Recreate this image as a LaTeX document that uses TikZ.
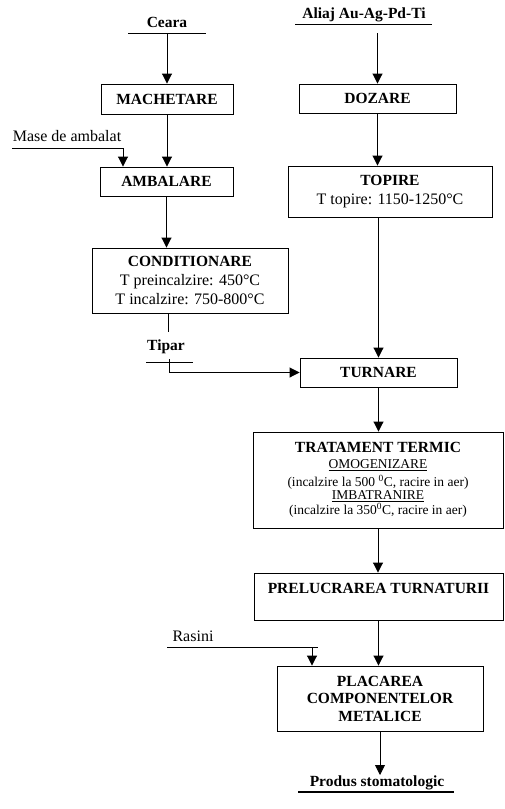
\documentclass[tikz,border=0pt]{standalone}
\usepackage{fontspec}
\setmainfont{Liberation Serif}
\usetikzlibrary{arrows.meta}
\tikzset{
  box/.style={draw, line width=0.9pt, inner sep=0pt, align=center, font=\fontsize{16}{19}\selectfont},
  bbox/.style={box, font=\bfseries\fontsize{15.5}{17.5}\selectfont},
  bt/.style={font=\bfseries\fontsize{15.5}{19}\selectfont, inner sep=0pt},
  rt/.style={font=\fontsize{16}{19}\selectfont, inner sep=0pt},
  st/.style={font=\fontsize{13.5}{15}\selectfont, inner sep=0pt},
  ln/.style={line width=0.9pt},
  arr/.style={line width=0.9pt, -{Triangle[length=10pt,width=10pt]}},
}
\begin{document}
\begin{tikzpicture}[x=1pt,y=-1pt]
\useasboundingbox (0,0) rectangle (505,809);
% boxes
\node[bbox, minimum width=132pt, minimum height=30pt] (mach) at (167,99) {MACHETARE};
\node[bbox, minimum width=157pt, minimum height=29pt] (doz) at (377.5,98.5) {DOZARE};
\node[bbox, minimum width=133pt, minimum height=29pt] (amb) at (166.5,181.5) {AMBALARE};
\node[box, minimum width=204pt, minimum height=51pt] (top) at (390,191.5) {{\fontsize{15.5}{19}\selectfont\bfseries TOPIRE}\\ T topire: 1150-1250°C};
\node[box, minimum width=196pt, minimum height=65pt] (cond) at (190,280.5) {{\fontsize{15.5}{19}\selectfont\bfseries CONDITIONARE}\\ T preincalzire: 450°C\\ T incalzire: 750-800°C};
\node[bbox, minimum width=157pt, minimum height=29pt] (turn) at (378.5,372.5) {TURNARE};
\node[box, minimum width=250pt, minimum height=96pt] (trat) at (378,480) {};
\node[bt] (trat1) at (378,447) {TRATAMENT TERMIC};
\node[st] (trat2) at (378,465) {\underline{OMOGENIZARE}};
\node[st] (trat3) at (378,482) {(incalzire la 500 \textsuperscript{0}C, racire in aer)};
\node[st] (trat4) at (378,496) {\underline{IMBATRANIRE}};
\node[st] (trat5) at (378,510) {(incalzire la 350\textsuperscript{0}C, racire in aer)};
\node[box, minimum width=249pt, minimum height=47pt] (prel) at (378.5,596.5) {};
\node[bt] (prelt) at (378.5,588) {PRELUCRAREA TURNATURII};
\node[bbox, minimum width=206pt, minimum height=65pt] (plac) at (380,698.5) {PLACAREA\\ COMPONENTELOR\\ METALICE};
% inputs
\node[bt] (ceara) at (167,22) {Ceara};
\coordinate (cearaL) at (128,33);
\coordinate (cearaR) at (206,33);
\coordinate (cearaA) at (167,33);
\draw[ln] (cearaL) -- (cearaR);
\draw[arr] (cearaA) -- (mach.north);

\node[bt] (aliaj) at (364,15) {Aliaj Au-Ag-Pd-Ti};
\coordinate (aliajL) at (295,24);
\coordinate (aliajR) at (432,24);
\coordinate (aliajA) at (377.5,33);
\draw[ln] (aliajL) -- (aliajR);
\draw[arr] (aliajA) -- (doz.north);

\node[rt] (mase) at (67,136) {Mase de ambalat};
\coordinate (maseL) at (12,148);
\coordinate (maseC) at (123,148);
\draw[arr] (maseL) -- (maseC) -- (maseC |- amb.north);

\draw[arr] (mach.south) -- (mach.south |- amb.north);
\draw[arr] (doz.south) -- (doz.south |- top.north);
\draw[arr] (amb.south) -- (amb.south |- cond.north);

% Tipar
\coordinate (condB) at (168,313);
\coordinate (condE) at (168,332);
\draw[ln] (condB) -- (condE);
\node[bt] (tipar) at (166,347) {Tipar};
\coordinate (tiparL) at (146,362);
\coordinate (tiparR) at (193,362);
\draw[ln] (tiparL) -- (tiparR);
\coordinate (tiparA) at (169,359);
\draw[arr] (tiparA) -- (tiparA |- turn.west) -- (turn.west);

\draw[arr] (turn.north |- top.south) -- (turn.north);
\draw[arr] (turn.south) -- (turn.south |- trat.north);
\draw[arr] (trat.south) -- (trat.south |- prel.north);
\draw[arr] (prel.south) -- (prel.south |- plac.north);

% Rasini
\node[rt] (rasini) at (193,636) {Rasini};
\coordinate (rasL) at (167,647);
\coordinate (rasR) at (318,647);
\coordinate (rasC) at (312,647);
\draw[ln] (rasL) -- (rasR);
\draw[arr] (rasC) -- (rasC |- plac.north);

% output
\coordinate (prodA) at (380,775);
\draw[arr] (plac.south) -- (prodA);
\node[bt] (prod) at (377,783) {Produs stomatologic};
\coordinate (prodL) at (298,792);
\coordinate (prodR) at (454,792);
\draw[line width=2.5pt] (prodL) -- (prodR);
\end{tikzpicture}
\end{document}
